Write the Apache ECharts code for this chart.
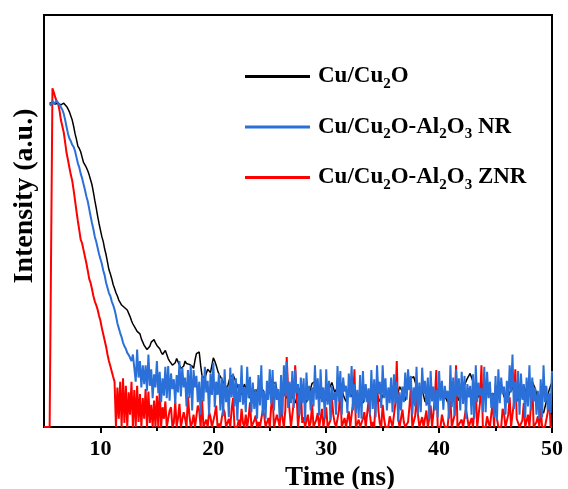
<!DOCTYPE html>
<html>
<head>
<meta charset="utf-8">
<script src="https://cdn.jsdelivr.net/npm/echarts@6/dist/echarts.min.js"></script>
<style>html,body{margin:0;padding:0;background:#fff}#c{width:568px;height:489px}</style>
</head>
<body>
<div id="c"></div>
<script>
// Sampling grid of the decay traces (ns)
const timeStart = 5;
const timeStep = 0.125;
const xTickLabels = [10, 20, 30, 40, 50];
const xMinorTicks = [15, 25, 35, 45];
const seriesNames = ['Cu/Cu2O', 'Cu/Cu2O-Al2O3 NR', 'Cu/Cu2O-Al2O3 ZNR'];

// Intensity values (arbitrary units), one row per ns (8 samples each)
const cuCu2O = [
  null, null, null, null, 786, 790, 788, 792,
  784, 788, 786, 782, 782, 785, 786, 784,
  778, 772, 765, 755, 745, 730, 712, 698,
  682, 676, 668, 655, 642, 636, 630, 622,
  612, 600, 588, 570, 550, 532, 512, 494,
  478, 462, 450, 432, 418, 400, 382, 372,
  360, 346, 336, 326, 318, 308, 302, 296,
  292, 290, 286, 284, 280, 268, 258, 250,
  244, 238, 232, 230, 226, 214, 206, 198,
  194, 188, 186, 196, 206, 210, 212, 204,
  198, 194, 190, 182, 176, 180, 186, 176,
  166, 160, 158, 150, 146, 156, 166, 158,
  150, 142, 138, 148, 160, 154, 150, 152,
  156, 148, 142, 162, 178, 180, 182, 150,
  124, 120, 118, 130, 140, 136, 132, 150,
  168, 160, 150, 138, 128, 122, 118, 110,
  102, 98, 96, 110, 122, 124, 126, 118,
  110, 100, 92, 84, 78, 92, 104, 96,
  88, 78, 70, 82, 92, 88, 84, 90,
  96, 98, 98, 90, 82, 74, 66, 78,
  88, 96, 104, 106, 108, 90, 72, 66,
  60, 72, 82, 76, 70, 82, 94, 86,
  76, 66, 58, 70, 84, 90, 96, 84,
  72, 66, 60, 70, 80, 94, 106, 108,
  110, 100, 92, 80, 70, 78, 86, 76,
  64, 78, 92, 100, 108, 96, 84, 90,
  96, 104, 110, 94, 78, 70, 62, 74,
  88, 80, 74, 86, 96, 82, 70, 72,
  74, 66, 58, 70, 82, 74, 66, 78,
  90, 96, 102, 90, 80, 70, 62, 68,
  76, 82, 88, 76, 66, 78, 92, 88,
  84, 76, 70, 84, 98, 92, 86, 76,
  64, 80, 96, 108, 118, 120, 122, 110,
  100, 88, 78, 84, 90, 76, 62, 58,
  56, 68, 80, 76, 72, 80, 88, 90,
  94, 88, 82, 78, 76, 68, 60, 72,
  86, 80, 72, 82, 90, 76, 64, 74,
  84, 92, 102, 110, 118, 124, 130, 120,
  110, 98, 86, 78, 72, 84, 94, 102,
  110, 100, 90, 82, 76, 80, 82, 76,
  68, 80, 90, 96, 100, 86, 74, 66,
  60, 72, 84, 90, 96, 86, 78, 70,
  64, 76, 88, 94, 100, 90, 82, 88,
  96, 104, 110, 102, 94, 82, 70, 56,
  40, 36, 34, 48, 62, 76, 90, 100,
  108
];

const cuAlNR = [
  null, null, null, null, 786, 780, 792, 784,
  785, 792, 790, 782, 778, 770, 760, 745,
  728, 712, 700, 694, 685, 680, 670, 655,
  640, 630, 615, 604, 590, 576, 560, 548,
  530, 512, 495, 480, 462, 450, 435, 420,
  408, 396, 380, 368, 350, 338, 325, 318,
  305, 296, 285, 270, 252, 240, 228, 218,
  205, 196, 190, 180, 175, 168, 160, 176,
  172, 110, 188, 120, 160, 96, 150, 104,
  150, 88, 176, 100, 140, 70, 128, 96,
  160, 82, 134, 60, 118, 76, 146, 70,
  148, 64, 130, 92, 116, 56, 126, 84,
  160, 74, 144, 96, 120, 50, 138, 70,
  150, 40, 138, 96, 124, 60, 110, 30,
  126, 62, 146, 84, 112, 30, 130, 78,
  156, 48, 110, 78, 130, 40, 120, 26,
  140, 60, 98, 24, 144, 72, 130, 50,
  118, 16, 104, 60, 150, 54, 96, 36,
  146, 70, 122, 36, 108, 44, 92, 20,
  126, 52, 150, 30, 88, 20, 112, 66,
  140, 56, 138, 40, 110, 66, 92, 24,
  126, 30, 150, 74, 158, 46, 110, 58,
  136, 46, 140, 82, 104, 28, 120, 58,
  118, 12, 132, 64, 100, 40, 96, 50,
  150, 66, 118, 28, 140, 60, 96, 20,
  140, 54, 112, 18, 100, 66, 84, 30,
  148, 62, 136, 30, 120, 86, 100, 34,
  130, 72, 148, 40, 104, 34, 90, 22,
  126, 20, 136, 60, 104, 60, 94, 30,
  138, 44, 116, 24, 150, 80, 110, 46,
  150, 70, 118, 40, 96, 58, 120, 36,
  128, 58, 110, 14, 84, 40, 98, 60,
  132, 66, 140, 90, 124, 30, 96, 50,
  146, 30, 108, 36, 144, 80, 112, 52,
  120, 18, 136, 62, 98, 40, 90, 24,
  136, 64, 112, 42, 100, 70, 88, 20,
  150, 48, 120, 26, 140, 74, 118, 40,
  134, 56, 124, 20, 104, 72, 100, 30,
  128, 20, 150, 60, 108, 76, 94, 36,
  146, 36, 134, 70, 110, 46, 82, 24,
  124, 16, 140, 58, 120, 80, 98, 30,
  112, 58, 150, 84, 176, 44, 110, 60,
  136, 30, 130, 66, 104, 22, 120, 50,
  150, 40, 120, 62, 96, 30, 88, 20,
  116, 24, 150, 60, 100, 40, 82, 34,
  136
];

const cuAlZNR = [
  0, 0, 0, 0, 0, 0, 822, 812,
  800, 790, 785, 768, 745, 730, 715, 690,
  665, 648, 630, 612, 598, 575, 550, 524,
  500, 478, 455, 446, 430, 414, 398, 380,
  360, 350, 335, 318, 305, 296, 285, 270,
  258, 240, 225, 210, 195, 176, 160, 148,
  135, 122, 110, 0, 96, 20, 110, 0,
  118, 10, 100, 0, 84, 30, 110, 0,
  90, 0, 100, 12, 80, 0, 70, 20,
  92, 0, 86, 10, 54, 0, 64, 0,
  76, 0, 92, 0, 48, 20, 62, 0,
  0, 40, 48, 0, 10, 62, 0, 22,
  56, 0, 0, 36, 20, 0, 74, 30,
  0, 10, 30, 0, 0, 52, 40, 0,
  66, 0, 0, 18, 0, 36, 24, 0,
  0, 30, 52, 0, 8, 0, 0, 44,
  36, 0, 0, 20, 0, 44, 70, 0,
  0, 0, 18, 0, 44, 10, 0, 30,
  0, 24, 60, 0, 0, 16, 28, 0,
  12, 0, 0, 40, 30, 0, 0, 22,
  0, 50, 74, 0, 0, 30, 16, 0,
  62, 20, 0, 40, 170, 90, 40, 0,
  0, 60, 150, 80, 0, 36, 92, 10,
  24, 0, 0, 30, 0, 12, 56, 0,
  0, 18, 34, 0, 0, 44, 0, 0,
  48, 0, 0, 16, 72, 30, 10, 0,
  0, 40, 96, 0, 0, 22, 0, 0,
  38, 0, 0, 60, 140, 0, 0, 18,
  0, 0, 20, 36, 0, 0, 64, 30,
  0, 12, 0, 0, 116, 40, 8, 0,
  54, 20, 0, 0, 0, 26, 30, 0,
  0, 58, 160, 20, 0, 0, 42, 12,
  0, 0, 12, 50, 96, 0, 0, 26,
  70, 30, 0, 0, 24, 0, 0, 40,
  0, 20, 52, 0, 0, 70, 138, 0,
  0, 0, 30, 14, 0, 0, 0, 36,
  64, 0, 0, 30, 150, 0, 0, 12,
  18, 0, 0, 44, 40, 0, 0, 22,
  0, 40, 88, 0, 0, 60, 150, 0,
  0, 0, 26, 10, 0, 32, 60, 0,
  100, 20, 0, 0, 0, 44, 34, 0,
  0, 30, 72, 0, 0, 60, 140, 20,
  20, 0, 0, 16, 58, 0, 0, 30,
  0, 48, 110, 0, 0, 12, 26, 0,
  48, 0, 0, 0, 0, 36, 80, 0,
  0
];

function pairs(vals) {
  return vals.map((v, i) => [timeStart + i * timeStep, v]);
}
function richName(n) {
  return n.replace(/(\d)|([^\d]+)/g, (m, d, t) => d ? '{s|' + d + '}' : '{m|' + t + '}');
}

const FONT = '"Liberation Serif","Times New Roman",serif';
const chart = echarts.init(document.getElementById('c'), null, {renderer: 'canvas'});
const axisCommon = {
  type: 'value', min: 5, max: 50,
  axisLine: {show: true, lineStyle: {color: '#000', width: 2}},
  splitLine: {show: false}
};
chart.setOption({
  animation: false,
  backgroundColor: '#fff',
  grid: {left: 44, right: 16, top: 15, bottom: 62, show: true, borderColor: '#000', borderWidth: 2, outerBoundsMode: 'none', containLabel: false},
  legend: {
    orient: 'vertical', left: 240, top: 60, itemGap: 24,
    itemWidth: 65, itemHeight: 3, icon: 'rect', selectedMode: false,
    data: seriesNames,
    formatter: richName,
    textStyle: {
      fontFamily: FONT, fontWeight: 'bold', fontSize: 23, color: '#000', padding: [0, 0, 0, 3],
      rich: {
        m: {fontFamily: FONT, fontWeight: 'bold', fontSize: 23, lineHeight: 30, verticalAlign: 'middle', color: '#000'},
        s: {fontFamily: FONT, fontWeight: 'bold', fontSize: 15, lineHeight: 14, verticalAlign: 'bottom', color: '#000'}
      }
    }
  },
  xAxis: [
    Object.assign({}, axisCommon, {
      name: 'Time (ns)', nameLocation: 'middle', nameGap: 36,
      nameTextStyle: {fontFamily: FONT, fontWeight: 'bold', fontSize: 27, color: '#000', padding: [0, 0, 0, 84]},
      axisTick: {show: true, inside: false, length: 6, lineStyle: {color: '#000', width: 2}, customValues: xTickLabels},
      axisLabel: {show: true, margin: 11, fontFamily: FONT, fontWeight: 'bold', fontSize: 22, color: '#000', customValues: xTickLabels}
    }),
    Object.assign({}, axisCommon, {
      position: 'bottom', gridIndex: 0,
      axisLine: {show: false},
      axisTick: {show: true, inside: false, length: 4, lineStyle: {color: '#000', width: 2}, customValues: xMinorTicks},
      axisLabel: {show: false}
    })
  ],
  yAxis: {
    type: 'value', min: 0, max: 1000,
    name: 'Intensity (a.u.)', nameLocation: 'middle', nameGap: 5,
    nameTextStyle: {fontFamily: FONT, fontWeight: 'bold', fontSize: 28, color: '#000', padding: [0, 0, 0, 50]},
    axisLine: {show: true, lineStyle: {color: '#000', width: 2}},
    axisTick: {show: false}, axisLabel: {show: false}, splitLine: {show: false}
  },
  series: [
    {name: seriesNames[0], type: 'line', data: pairs(cuCu2O), showSymbol: false, color: '#000000', lineStyle: {width: 1.5}, z: 2},
    {name: seriesNames[2], type: 'line', data: pairs(cuAlZNR), showSymbol: false, color: '#ff0000', lineStyle: {width: 2}, z: 3},
    {name: seriesNames[1], type: 'line', data: pairs(cuAlNR), showSymbol: false, color: '#2a70d8', lineStyle: {width: 2}, z: 4}
  ]
});
</script>
</body>
</html>
